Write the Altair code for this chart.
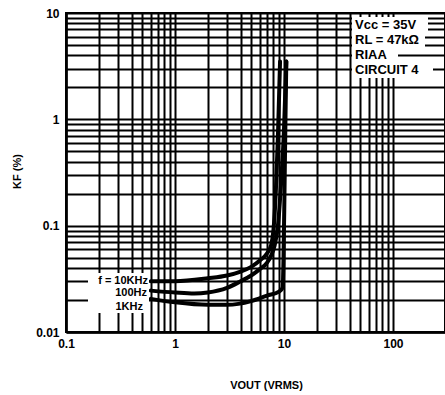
import altair as alt
import pandas as pd

# ---- data ----
x_10k = [0.6, 1, 2, 3, 4, 5, 6, 7, 7.6, 8.0, 8.4, 8.8, 9.2]
y_10k = [0.030, 0.030, 0.032, 0.034, 0.037, 0.041, 0.047, 0.055, 0.065, 0.09, 0.2, 0.7, 3.5]

x_100 = [0.6, 1, 1.5, 2, 3, 4, 5, 6, 7, 7.6, 8.2, 8.8, 9.4, 10.0, 10.5]
y_100 = [0.0245, 0.0235, 0.023, 0.0235, 0.026, 0.030, 0.034, 0.039, 0.045, 0.052, 0.065, 0.10, 0.25, 0.8, 3.5]

x_1k = [0.6, 1, 2, 3, 5, 7, 9, 9.7, 9.9, 10.1, 10.3, 10.5]
y_1k = [0.0205, 0.019, 0.018, 0.018, 0.0195, 0.022, 0.024, 0.026, 0.05, 0.2, 0.9, 3.5]

series_names = ["10kHz", "100Hz", "1kHz"]
series_labels = ["f = 10KHz", "100Hz", "1KHz"]

x_major = [0.1, 1, 10, 100]
y_major = [0.01, 0.1, 1, 10]
x_tick_labels = ["0.1", "1", "10", "100"]
y_tick_labels = ["0.01", "0.1", "1", "10"]

annot_lines = ["Vcc = 35V", "RL = 47kΩ", "RIAA", "CIRCUIT 4"]

# ---- build tables ----
rows = []
for name, xs, ys in zip(series_names, [x_10k, x_100, x_1k], [y_10k, y_100, y_1k]):
    for i, (a, b) in enumerate(zip(xs, ys)):
        rows.append({"series": name, "x": a, "y": b, "order": i})
df = pd.DataFrame(rows)


def grid_vals(majors, top):
    vals = []
    for m in majors:
        for k in range(1, 10):
            v = round(m * k, 6)
            if v <= top:
                vals.append(v)
    return vals


x_grid = grid_vals(x_major[:-1], 100) + [100]
y_grid = grid_vals(y_major[:-1], 10) + [10]

FONT = "Liberation Sans"
OX, OY = 66, 13  # plot-area origin inside the page (for annotation pixel offsets)


def label_expr(majors, labels):
    parts = " : ".join(f"datum.value == {m} ? '{l}'" for m, l in zip(majors, labels))
    return parts + " : ''"


x_scale = alt.Scale(type="log", domain=[0.1, 300], nice=False)
y_scale = alt.Scale(type="log", domain=[0.01, 10], nice=False)

lines = alt.Chart(df).mark_line(
    color="black", strokeWidth=4, strokeCap="round", strokeJoin="round",
    interpolate="monotone", clip=True
).encode(
    x=alt.X("x:Q", scale=x_scale, axis=alt.Axis(
        values=x_grid, labelExpr=label_expr(x_major, x_tick_labels),
        grid=True, gridColor="black", gridWidth=2, gridOpacity=1,
        ticks=False, domainColor="black", domainWidth=2.5,
        labelFont=FONT, labelFontSize=12, labelFontWeight="bold", labelColor="black",
        labelPadding=6, labelFlush=False, labelOverlap=False,
        title="VOUT (VRMS)", titleFont=FONT, titleFontSize=11, titleFontWeight="bold",
        titleColor="black", titlePadding=30, titleX=200)),
    y=alt.Y("y:Q", scale=y_scale, axis=alt.Axis(
        values=y_grid, labelExpr=label_expr(y_major, y_tick_labels),
        grid=True, gridColor="black", gridWidth=2, gridOpacity=1,
        ticks=False, domainColor="black", domainWidth=2.5,
        labelFont=FONT, labelFontSize=12, labelFontWeight="bold", labelColor="black",
        labelPadding=7, labelFlush=False, labelOverlap=False,
        title="KF (%)", titleFont=FONT, titleFontSize=11, titleFontWeight="bold",
        titleColor="black", titleX=-49, titleY=158, titleAlign="center",
        titleBaseline="middle")),
    detail="series:N",
    order="order:Q",
)

# white backdrops behind annotation texts (page pixel positions, shifted to plot area)
back_df = pd.DataFrame({
    "x1": [88, 352, 352, 352, 352],
    "x2": [149, 428, 425, 398, 433],
    "y1": [273, 17, 32, 47, 62],
    "y2": [313, 32, 47, 62, 78],
})
back_df[["x1", "x2"]] -= OX
back_df[["y1", "y2"]] -= OY
backs = alt.Chart(back_df).mark_rect(color="white").encode(
    x=alt.X("x1:Q", scale=None), x2="x2:Q",
    y=alt.Y("y1:Q", scale=None), y2="y2:Q",
)

lab_df = pd.DataFrame({"t": series_labels, "px": [148, 147, 143], "py": [281, 293, 307]})
lab_df["px"] -= OX
lab_df["py"] -= OY
labs = alt.Chart(lab_df).mark_text(
    align="right", baseline="middle", font=FONT, fontSize=11, fontWeight="bold", color="black"
).encode(x=alt.X("px:Q", scale=None), y=alt.Y("py:Q", scale=None), text="t:N")

ann_df = pd.DataFrame({"t": annot_lines, "px": [355] * 4, "py": [25, 40, 55, 70]})
ann_df["px"] -= OX
ann_df["py"] -= OY
anns = alt.Chart(ann_df).mark_text(
    align="left", baseline="middle", font=FONT, fontSize=13, fontWeight="bold", color="black"
).encode(x=alt.X("px:Q", scale=None), y=alt.Y("py:Q", scale=None), text="t:N")

chart = alt.layer(lines, backs, labs, anns).properties(
    width=379, height=319,
    padding={"left": OX, "top": OY, "right": 0, "bottom": 63},
    autosize=alt.AutoSizeParams(type="none"),
    background="white",
).configure_view(stroke="black", strokeWidth=2)

chart.save("out.html", embed_options={"renderer": "svg", "actions": False})
